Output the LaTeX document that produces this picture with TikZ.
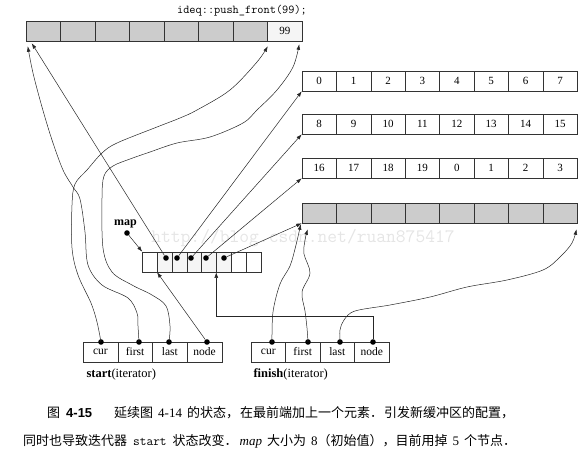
\documentclass[tikz,border=0pt]{standalone}
\usepackage{fontspec}
\setmainfont{Liberation Serif}
\newfontfamily\cjk{Noto Sans CJK SC}
\newfontfamily\hvb{Liberation Sans}
\usetikzlibrary{arrows.meta}
\tikzset{
  cell/.style={draw=black!80, line width=0.5pt, minimum width=34.5pt, minimum height=20pt, inner sep=0pt, font=\fontsize{11}{12}\selectfont},
  bcell/.style={cell, minimum width=34.4pt},
  shaded/.style={fill=gray!40},
  mcell/.style={draw=black!80, line width=0.5pt, minimum width=14.8pt, minimum height=20pt, inner sep=0pt},
  icell/.style={draw=black!80, line width=0.5pt, minimum height=20pt, inner sep=0pt, font=\fontsize{11.5}{12}\selectfont},
  dot/.style={circle, fill=black, inner sep=0pt, minimum size=5.6pt},
  arr/.style={-{Latex[length=5.5pt,width=3.8pt]}, line width=0.5pt, draw=black!85},
  crv/.style={arr, smooth, tension=0.55},
  captxt/.style={anchor=west, font=\fontsize{13}{14}\selectfont\cjk, inner sep=0pt},
}
\begin{document}
\begin{tikzpicture}[x=1pt,y=-1pt]
\useasboundingbox (0,0) rectangle (586,455);
% watermark
\node[font=\ttfamily\fontsize{19}{19}\selectfont, text=gray!20] (wm) at (303,238) {http://blog.csdn.net/ruan875417};
% title
\node[font=\ttfamily\fontsize{12}{12}\selectfont] (title) at (242,11) {ideq::push\_front(99);};
% top buffer
\foreach \i in {0,...,6} \node[cell, shaded] (t\i) at ({43.25+34.5*\i},31) {};
\node[cell, fill=gray!8] (t7) at (284.75,31) {99};
% buffers
\foreach \v [count=\i from 0] in {0,1,2,3,4,5,6,7} \node[bcell] (a\i) at ({319.2+34.4*\i},81) {\v};
\foreach \v [count=\i from 0] in {8,9,10,11,12,13,14,15} \node[bcell] (b\i) at ({319.2+34.4*\i},124) {\v};
\foreach \v [count=\i from 0] in {16,17,18,19,0,1,2,3} \node[bcell] (c\i) at ({319.2+34.4*\i},168) {\v};
\foreach \i in {0,...,7} \node[bcell, shaded] (d\i) at ({319.2+34.4*\i},213) {};
% map
\foreach \i in {0,...,7} \node[mcell] (m\i) at ({149.9+14.8*\i},262) {};
\foreach \i in {1,...,5} \node[mcell, fill=gray!8] at ({149.9+14.8*\i},262) {};
\node[font=\bfseries\fontsize{12}{12}\selectfont] (maplbl) at (125.5,224) {map};
\node[dot] (mapdot) at (127,233) {};
\node[dot] (md1) at (166,258) {};
\node[dot] (md2) at (177,258) {};
\node[dot] (md3) at (191,258) {};
\node[dot] (md4) at (206,258) {};
\node[dot] (md5) at (224,258) {};
% iterators
\foreach \t [count=\i from 0] in {cur,first,last,node} \node[icell, minimum width=34.75pt] (s\i) at ({100.4+34.75*\i},352) {\t};
\foreach \t [count=\i from 0] in {cur,first,last,node} \node[icell, minimum width=34.5pt] (f\i) at ({268.25+34.5*\i},352) {\t};
\node[anchor=west, font=\fontsize{12.5}{13}\selectfont] (slbl) at (83,374) {\textbf{start}(iterator)};
\node[anchor=west, font=\fontsize{12.5}{13}\selectfont] (flbl) at (250,374) {\textbf{finish}(iterator)};
\node[dot] (scur) at (101,342) {};
\node[dot] (sfirst) at (139,342) {};
\node[dot] (slast) at (169,342) {};
\node[dot] (snode) at (207,342) {};
\node[dot] (fcur) at (272,342) {};
\node[dot] (ffirst) at (308,342) {};
\node[dot] (flast) at (340,342) {};
\node[dot] (fnode) at (373,342) {};
% map pointers
\draw[arr] (mapdot) -- (m0.north west);
\draw[arr] (md1) -- ([shift={(6,2)}]t0.south west);
\draw[arr] (md2) -- (a0.south west);
\draw[arr] (md3) -- (b0.south west);
\draw[arr] (md4) -- (c0.south west);
\draw[arr] (md5) -- (d0.south west);
% start iterator
\draw[crv] plot coordinates {(scur) (97,322) (91,303) (78,275) (72,248) (72,205) (75,184) (87,170) (102,153) (117,143) (157,127) (180,118) (197,110) (230,90) (257,62) ([shift={(0,5)}]t6.south east)};
\draw[crv] plot coordinates {(sfirst) (138,326) (137,313) (128,298) (102,285) (88,265) (85,232) (80,199) (73,187) (63,170) (52,140) (42,107) (33,73) ([shift={(2,5)}]t0.south west)};
\draw[crv] plot coordinates {(slast) (170,326) (166,306) (152,295) (132,285) (112,272) (103,248) (102,198) (104,176) (113,166) (130,159) (150,152) (177,143) (210,137) (243,123) (257,110) (277,90) (293,67) ([shift={(-3,3)}]t7.south east)};
\draw[arr] (snode) -- (m1.south west);
% finish iterator
\draw[arr] (fnode) -- ++(0,-26) -| (m5.south west);
\draw[crv] plot coordinates {(fcur) (273,312) (280,284) (290,266) (296,245) ([shift={(-1,1)}]d0.south west)};
\draw[crv] plot coordinates {(ffirst) (307,328) (305,311) (302,292) (310,273) (304,254) (305,240) ([shift={(6,6)}]d0.south west)};
\draw[crv] plot coordinates {(flast) (340,330) (344,320) (355,311) (390,305) (430,297) (467,287) (507,280) (543,270) (560,257) (572,243) ([shift={(-1,6)}]d7.south east)};
% caption
\node[captxt] (cap1) at (47,413) {图\hspace{6pt}{\hvb\bfseries 4-15}\hspace{22pt}延续图\hspace{5pt}{\rmfamily 4-14}\hspace{5pt}的状态，\hspace{1pt}在最前端加上一个元素．\hspace{1pt}引发新缓冲区的配置，};
\node[captxt] (cap2) at (23,441) {同时也导致迭代器\hspace{6pt}{\ttfamily start}\hspace{6pt}状态改变．\hspace{2pt}{\rmfamily\itshape map}\hspace{5pt}大小为\hspace{5pt}{\rmfamily 8}（初始值），目前用掉\hspace{5pt}{\rmfamily 5}\hspace{5pt}个节点．};
\end{tikzpicture}
\end{document}
